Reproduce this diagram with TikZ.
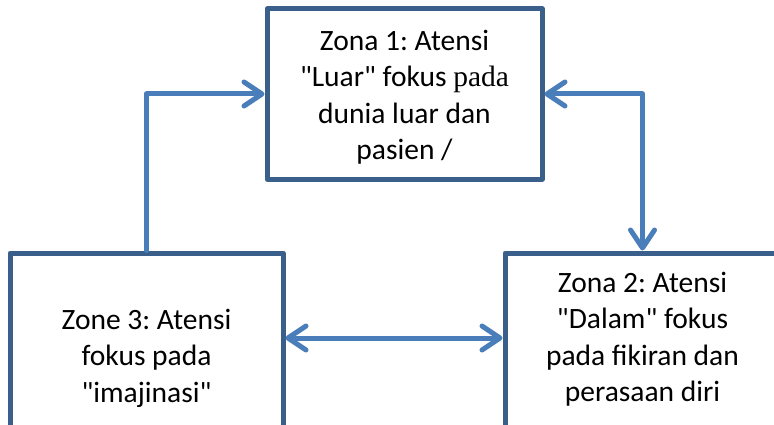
\documentclass[tikz,border=0pt]{standalone}
\usepackage{fontspec}
\setmainfont{Carlito}[Ligatures=TeXOff]
\newfontfamily\serifpart{Liberation Serif}[Ligatures=TeXOff]
\usetikzlibrary{arrows.meta}
\definecolor{boxblue}{RGB}{58,95,139}
\definecolor{arrblue}{RGB}{74,126,187}
\frenchspacing
\begin{document}
\begin{tikzpicture}[x=1pt,y=1pt,
  zone/.style={draw=boxblue,line width=5pt,rectangle,inner sep=0pt,line join=round},
  ztext/.style={align=center,font=\fontsize{29.5}{36.5}\selectfont,inner sep=0pt},
  conn/.style={draw=arrblue,line width=5pt,line cap=round,line join=round},
  barb/.tip={Straight Barb[length=18pt,width=24pt,round]}]
\clip (0,0) rectangle (774,424);
\fill[white] (0,0) rectangle (774,424);
% boxes
\node[zone,minimum width=275pt,minimum height=170pt] (z1) at (404.5,330) {};
\node[zone,minimum width=273pt,minimum height=217pt] (z3) at (146.5,62.5) {};
\node[zone,minimum width=275pt,minimum height=217pt] (z2) at (642.5,62.5) {};
% texts
\node[ztext] (t1) at (404.5,327) {\frenchspacing Zona 1: Atensi\\ "Luar" fokus {\serifpart pada}\\ dunia luar dan\\ pasien /};
\node[ztext] (t3) at (146.5,66) {\frenchspacing Zone 3: Atensi\\ fokus pada\\ "imajinasi"};
\node[ztext] (t2) at (642.5,85) {\frenchspacing Zona 2: Atensi\\ "Dalam" fokus\\ pada fikiran dan\\ perasaan diri};
% connectors
\coordinate (mid) at (0,86);
\draw[conn,-barb] (z3.north) |- (z1.west);
\draw[conn,barb-barb] (z1.east) -| (z2.north);
\draw[conn,barb-barb] (z3.east |- mid) -- (z2.west |- mid);
\end{tikzpicture}
\end{document}
